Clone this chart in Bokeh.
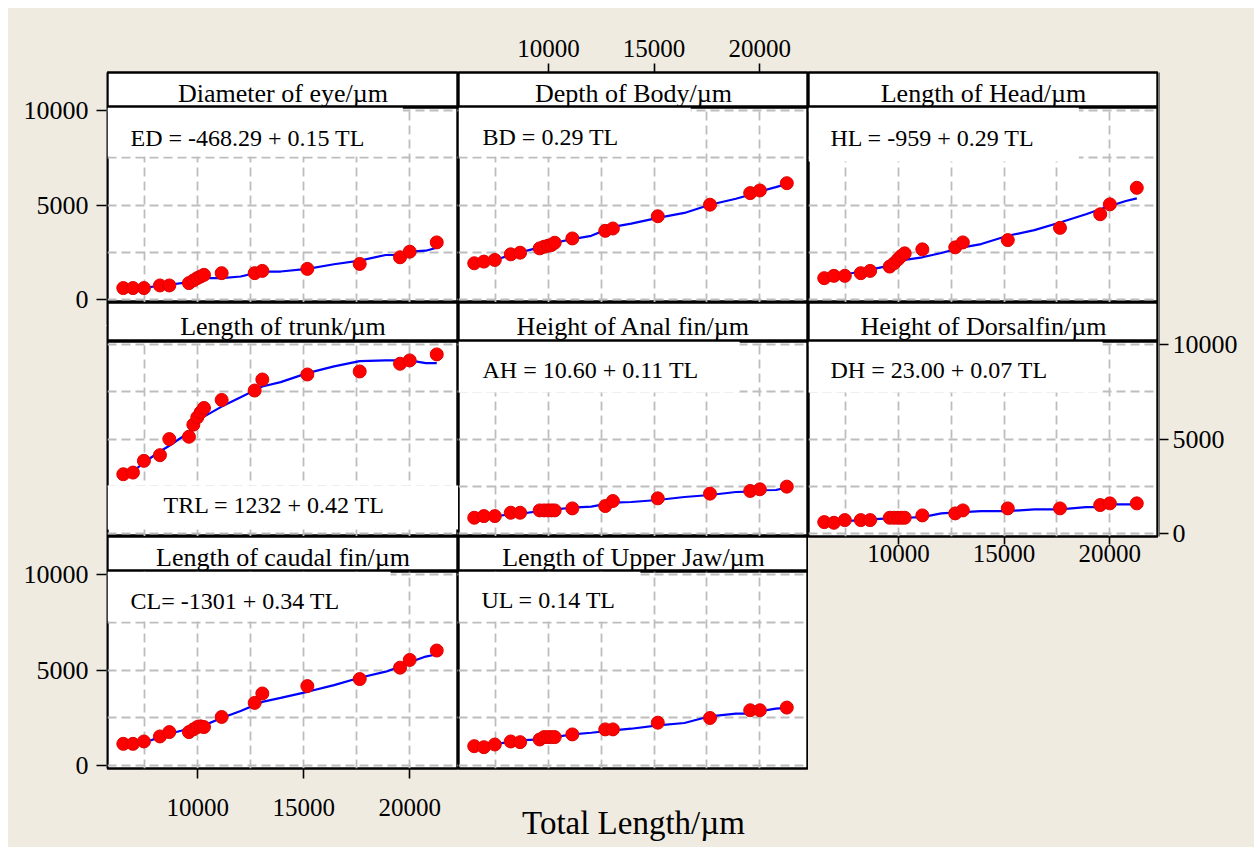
from bokeh.plotting import figure
from bokeh.layouts import row, column
from bokeh.models import Range1d, FixedTicker, LinearAxis, Label, Spacer
from bokeh.embed import file_html
from bokeh.resources import INLINE

# ---------------- data ----------------
tl = [6495, 6950, 7467, 8222, 8664, 9590, 9797, 9984, 10141, 10299,
      11132, 12689, 13050, 15173, 17642, 19544, 20000, 21274]
line_tl = [6495, 6950, 7467, 8222, 8664, 9590, 9984, 10299, 11132, 12028,
           13050, 13915, 15173, 16431, 17642, 18868, 19544, 20000, 20755, 21274]

ed_pts = [613, 613, 613, 750, 750, 875, 1012, 1138, 1222, 1311, 1400, 1400, 1520, 1626, 1888, 2238, 2533, 3025]
ed_line = [600, 610, 613, 750, 787, 927, 1050, 1138, 1138, 1222, 1486, 1486, 1626, 1870, 2063, 2360, 2360, 2533, 2586, 2744]

bd_pts = [1923, 2010, 2097, 2395, 2482, 2709, 2797, 2849, 2884, 3006, 3233, 3635, 3758, 4405, 5016, 5628, 5768, 6152]
bd_line = [1900, 2000, 2097, 2360, 2500, 2762, 2919, 3006, 3198, 3373, 3845, 4020, 4317, 4580, 5016, 5331, 5540, 5715, 5942, 6117]

hl_pts = [1136, 1258, 1258, 1398, 1520, 1748, 1923, 2132, 2307, 2447, 2657, 2762, 3024, 3146, 3793, 4510, 5034, 5908]
hl_line = [1188, 1240, 1328, 1486, 1590, 1800, 1975, 2098, 2238, 2465, 2762, 2937, 3374, 3671, 4073, 4510, 4772, 4947, 5209, 5349]

trl_pts = [3139, 3227, 3846, 4147, 4996, 5119, 5756, 6145, 6410, 6640, 7064, 7560, 8143, 8408, 8568, 8975, 9151, 9469]
trl_line = [2997, 3280, 3758, 4341, 4642, 5349, 5880, 6180, 6711, 7206, 7772, 8002, 8479, 8833, 9116, 9151, 9151, 9151, 9010, 9010]

ah_pts = [840, 928, 928, 1105, 1105, 1229, 1229, 1229, 1229, 1229, 1335, 1459, 1724, 1865, 2113, 2255, 2343, 2484]
ah_line = [840, 893, 928, 1017, 1052, 1194, 1247, 1282, 1370, 1424, 1636, 1671, 1777, 1936, 2042, 2201, 2219, 2290, 2307, 2431]

dh_pts = [610, 575, 716, 716, 716, 840, 840, 840, 840, 840, 964, 1070, 1229, 1335, 1335, 1512, 1600, 1600]
dh_line = [610, 628, 663, 716, 752, 805, 822, 840, 875, 1070, 1141, 1194, 1194, 1282, 1282, 1406, 1406, 1547, 1547, 1547]

cl_pts = [1140, 1140, 1263, 1526, 1754, 1754, 1895, 2018, 2053, 2018, 2544, 3281, 3772, 4158, 4526, 5123, 5526, 6018]
cl_line = [912, 1018, 1193, 1491, 1666, 1930, 2053, 2105, 2491, 2860, 3333, 3544, 3860, 4210, 4596, 4912, 5175, 5403, 5702, 5825]

ul_pts = [1018, 965, 1105, 1263, 1228, 1368, 1491, 1491, 1491, 1491, 1632, 1895, 1895, 2245, 2491, 2895, 2895, 3035]
ul_line = [965, 1018, 1140, 1228, 1316, 1368, 1438, 1491, 1632, 1719, 1842, 1930, 2105, 2228, 2579, 2719, 2719, 2842, 2982, 3018]

panel_names = ["Diameter of eye/µm", "Depth of Body/µm", "Length of Head/µm",
               "Length of trunk/µm", "Height of Anal fin/µm", "Height of Dorsalfin/µm",
               "Length of caudal fin/µm", "Length of Upper Jaw/µm"]
equations = ["ED = -468.29 + 0.15 TL", "BD = 0.29 TL", "HL = -959 + 0.29 TL",
             "TRL = 1232 + 0.42 TL", "AH = 10.60 + 0.11 TL", "DH = 23.00 + 0.07 TL",
             "CL= -1301 + 0.34 TL", "UL = 0.14 TL"]
points = [ed_pts, bd_pts, hl_pts, trl_pts, ah_pts, dh_pts, cl_pts, ul_pts]
lines = [ed_line, bd_line, hl_line, trl_line, ah_line, dh_line, cl_line, ul_line]
x_title = "Total Length/µm"

x_ticks = [10000, 15000, 20000]
y_ticks = [0, 5000, 10000]
x_grid = [5000, 7500, 10000, 12500, 15000, 17500, 20000, 22500]
y_grid = [0, 2500, 5000, 7500, 10000]

# ---------------- style / layout ----------------
BG = "#EFEBE1"
FONT = "Liberation Serif"
X0, X1 = 5750, 22300
Y0, Y1 = -150, 10150
COLW = [351, 350, 350]
STRIPH = [35, 39, 35]
STRIP_TXT_TOP = [6.7, 9.4, 6.7]
PANELH = [195, 195, 197]
LEFT, RIGHT, TOP, BOTTOM = 99, 96, 64, 79
MARGIN = 8
LINE_W = 2.4

# equation boxes: (box top offset from panel top, pad left, right, top, bottom)
boxes = [(0, 23, 38, 17, 6), (0, 24, 72, 16, 7), (0, 22, 44, 17, 11),
         (144, 56, 73, 6, 12), (0, 24, 41, 15, 10), (0, 22, 55, 15, 10),
         (0, 23, 51, 16, 8), (0, 23, 24, 15, 9)]

# vertical positions (px from top of the grid area)
row_tops = []
yy = TOP
for r in range(3):
    row_tops.append((yy, yy + STRIPH[r], yy + STRIPH[r] + PANELH[r]))
    yy += STRIPH[r] + PANELH[r]
H_TOTAL = yy + BOTTOM
SPLIT = row_tops[0][2] + 23  # split of the left axis column inside strip 2

xr = Range1d(X0, X1)
yr = Range1d(Y0, Y1)


def new_fig(w, h, x_range, y_range, **mb):
    p = figure(width=w, height=h, x_range=x_range, y_range=y_range,
               output_backend="svg", toolbar_location=None,
               x_axis_location=None, y_axis_location=None,
               min_border=0, **mb)
    p.background_fill_color = "white"
    p.border_fill_color = BG
    p.outline_line_color = "black"
    p.outline_line_width = LINE_W
    return p


def style_axis(ax, size, tick_out, standoff):
    ax.axis_line_color = None
    ax.major_tick_line_color = "black"
    ax.major_tick_line_width = 1.6
    ax.major_tick_out = tick_out
    ax.major_tick_in = 0
    ax.minor_tick_line_color = None
    ax.major_label_text_font = FONT
    ax.major_label_text_font_size = size
    ax.major_label_text_color = "black"
    ax.major_label_standoff = standoff


def ext_range(frame_top, frame_bot, pan_top, pan_bot):
    k = (pan_bot - pan_top) / (Y1 - Y0)
    return Range1d(Y0 - (frame_bot - pan_bot) / k, Y1 + (pan_top - frame_top) / k)


def axis_fig(w, h, frame_top, frame_bot, pan_top, pan_bot, side, **mb):
    a = new_fig(w, h, Range1d(0, 1), ext_range(frame_top, frame_bot, pan_top, pan_bot), **mb)
    a.background_fill_color = "black"
    a.outline_line_color = None
    a.grid.visible = False
    ax = LinearAxis(ticker=FixedTicker(ticks=y_ticks))
    style_axis(ax, "26px", 10 if side == "left" else 9, 8 if side == "left" else 4)
    a.add_layout(ax, side)
    return a


# left axis column (rows 1 and 3)
left1 = axis_fig(LEFT, SPLIT, TOP, SPLIT, row_tops[0][1], row_tops[0][2], "left",
                 min_border_left=LEFT - 1, min_border_right=0,
                 min_border_top=TOP, min_border_bottom=0)
left2 = axis_fig(LEFT, H_TOTAL - SPLIT, SPLIT, row_tops[2][2], row_tops[2][1], row_tops[2][2], "left",
                 min_border_left=LEFT - 1, min_border_right=0,
                 min_border_top=0, min_border_bottom=BOTTOM)
# right axis column (row 2)
right1 = axis_fig(RIGHT, H_TOTAL, TOP, row_tops[1][2], row_tops[1][1], row_tops[1][2], "right",
                  min_border_left=0, min_border_right=RIGHT - 1,
                  min_border_top=TOP, min_border_bottom=H_TOTAL - row_tops[1][2])

cols = [[], [], []]
for r in range(3):
    for c in range(3):
        i = r * 3 + c
        if i >= len(panel_names):
            continue
        tb = TOP if r == 0 else 0
        # strip
        s = new_fig(COLW[c], STRIPH[r] + tb, xr, Range1d(0, STRIPH[r]),
                    min_border_left=0, min_border_right=0,
                    min_border_top=tb, min_border_bottom=0)
        s.grid.visible = False
        s.add_layout(Label(x=(X0 + X1) / 2, y=STRIPH[r] - STRIP_TXT_TOP[r],
                           text=panel_names[i], anchor="top_center",
                           text_align="center", text_baseline="top",
                           text_font=FONT, text_font_size="26px",
                           text_color="black"))
        if r == 0 and c == 1:
            ax = LinearAxis(ticker=FixedTicker(ticks=x_ticks))
            style_axis(ax, "25px", 9, 7)
            s.add_layout(ax, "above")
        cols[c].append(s)

        # panel
        if r == 2:
            bb = BOTTOM
        elif r == 1 and c == 2:
            bb = H_TOTAL - row_tops[1][2]
        else:
            bb = 0
        ph = PANELH[r]
        p = new_fig(COLW[c], ph + bb, xr, yr,
                    min_border_left=0, min_border_right=0,
                    min_border_top=0, min_border_bottom=bb)
        for g, ticks in ((p.xgrid, x_grid), (p.ygrid, y_grid)):
            g.ticker = FixedTicker(ticks=ticks)
            g.grid_line_color = "#BDBDBD"
            g.grid_line_width = 1.8
            g.grid_line_dash = "9 5"

        p.line(line_tl, lines[i], line_color="#0000FF", line_width=2.2)
        p.scatter(tl, points[i], size=13, fill_color="#FF0000",
                  line_color="#E00000", line_width=1)

        sy = (Y1 - Y0) / ph
        top_off, pl, pr, pt, pb = boxes[i]
        p.add_layout(Label(x=X0, y=Y1 - top_off * sy, text=equations[i],
                           anchor="top_left", text_align="left",
                           text_baseline="top", text_font=FONT,
                           text_font_size="24px", text_color="black",
                           background_fill_color="white",
                           padding=dict(left=pl, right=pr, top=pt, bottom=pb)))

        if r == 2 and c == 0:
            ax = LinearAxis(ticker=FixedTicker(ticks=x_ticks))
            style_axis(ax, "25px", 10, 20)
            p.add_layout(ax, "below")
        if r == 1 and c == 2:
            ax2 = LinearAxis(ticker=FixedTicker(ticks=x_ticks))
            style_axis(ax2, "25px", 8, 0)
            p.add_layout(ax2, "below")
        if r == 2 and c == 1:
            ax = LinearAxis(ticker=FixedTicker(ticks=[]), axis_label=x_title)
            style_axis(ax, "25px", 0, 0)
            ax.major_tick_line_color = None
            ax.axis_label_text_font = FONT
            ax.axis_label_text_font_size = "33px"
            ax.axis_label_text_font_style = "normal"
            ax.axis_label_text_color = "black"
            ax.axis_label_standoff = 36
            p.add_layout(ax, "below")
        cols[c].append(p)

grid = row(column(left1, left2, spacing=0),
           column(*cols[0], spacing=0), column(*cols[1], spacing=0),
           column(*cols[2], spacing=0), column(right1, spacing=0),
           spacing=0, styles={"background-color": BG})
page = column(Spacer(height=MARGIN, width=10),
              row(Spacer(width=MARGIN, height=10), grid, spacing=0),
              spacing=0)

open("out.html", "w").write(file_html(page, INLINE))
